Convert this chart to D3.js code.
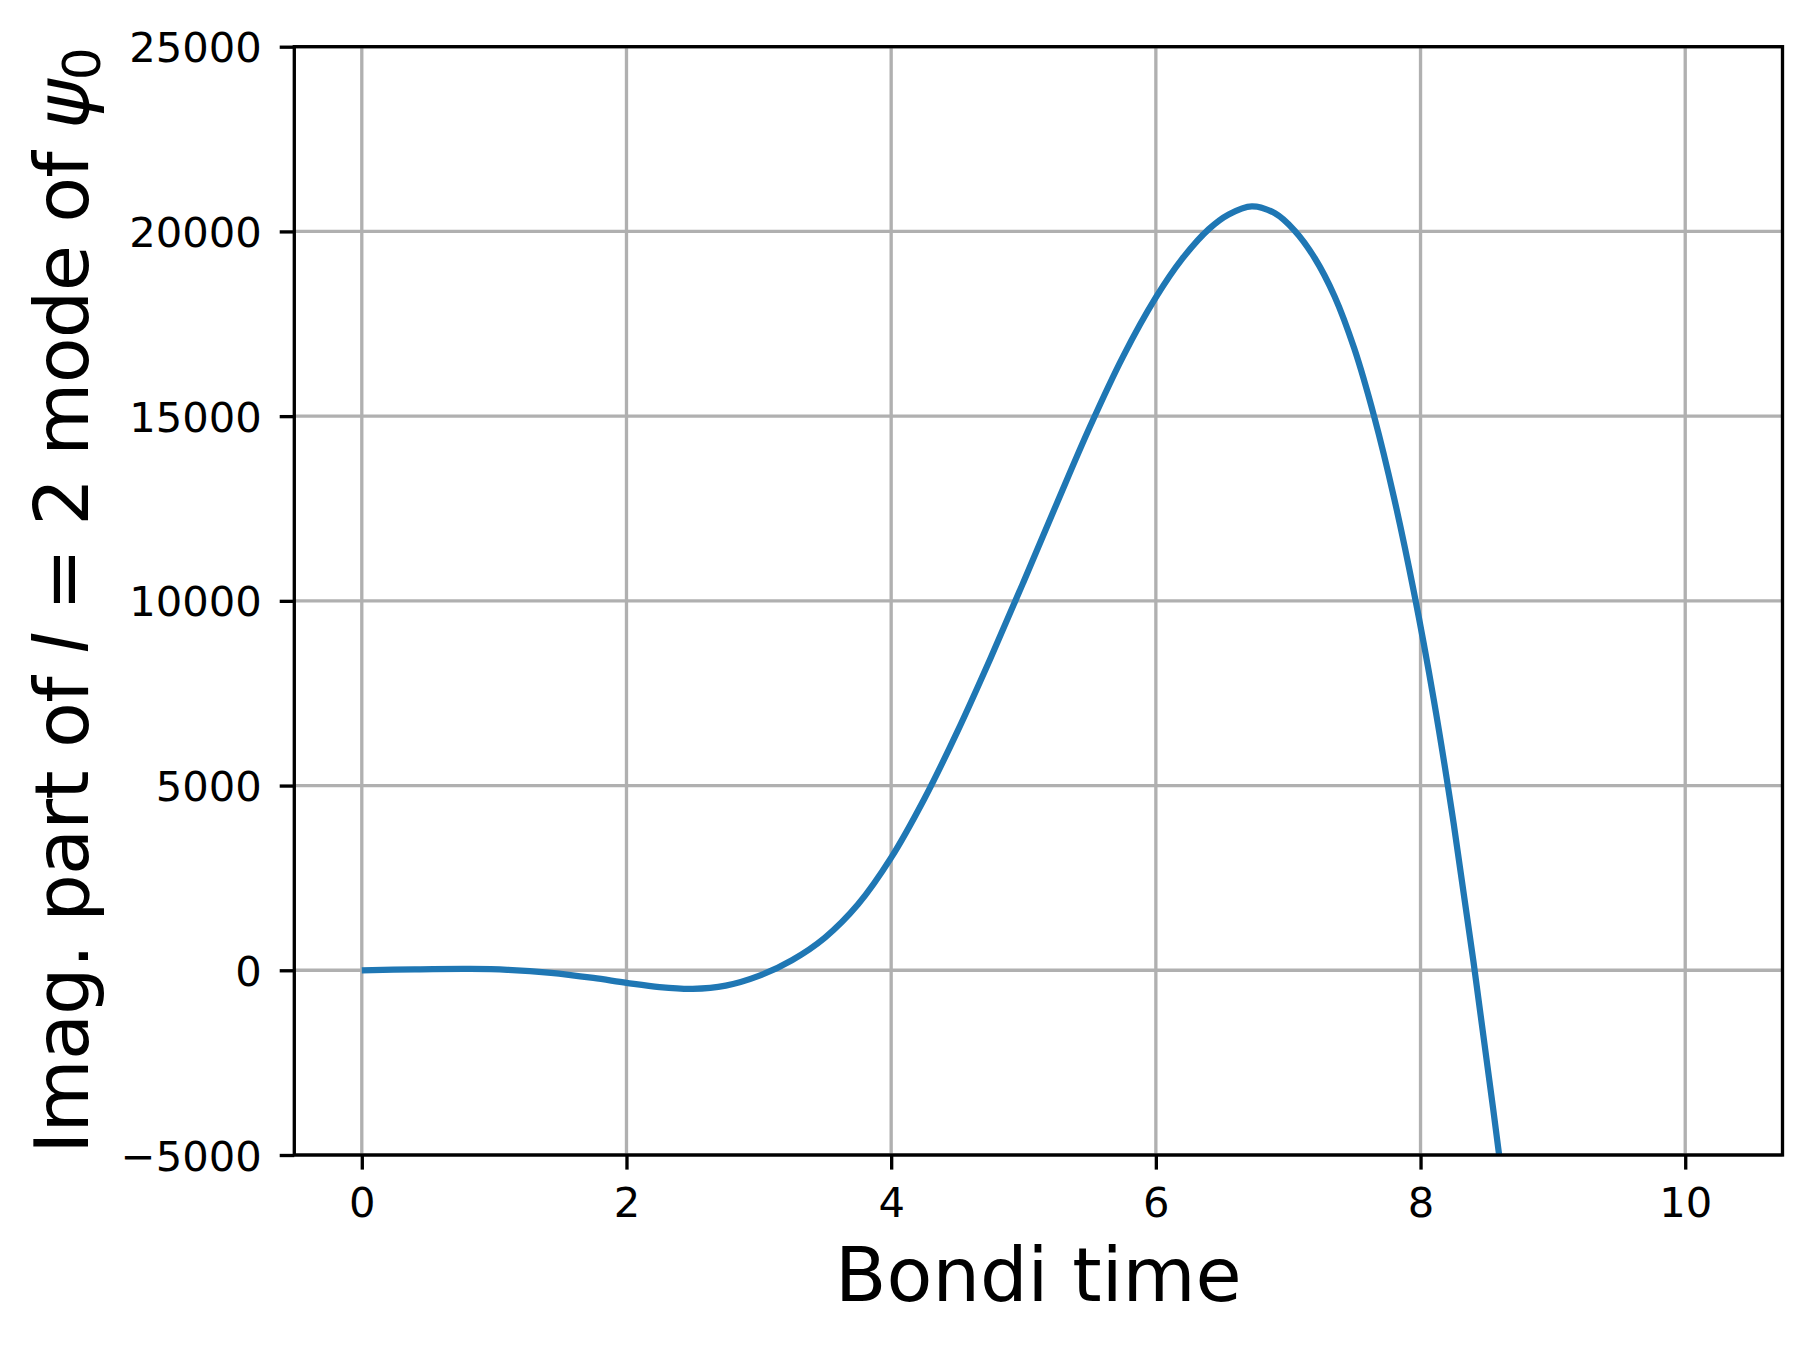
<!DOCTYPE html>
<html>
<head>
<meta charset="utf-8">
<script src="https://cdn.jsdelivr.net/npm/d3@7"></script>
<style>
  html, body { margin: 0; padding: 0; background: #ffffff; }
  svg { display: block; }
  text { font-family: "DejaVu Sans", sans-serif; fill: #000; }
</style>
</head>
<body>
<svg id="chart" width="1811" height="1346"></svg>
<script>
// ---- data ----
const bondiTime = [0, 0.4, 0.82, 1.1, 1.43, 1.75, 2.0, 2.25, 2.5, 2.75, 3.0, 3.25, 3.5, 3.75, 4.0, 4.25, 4.5, 4.75, 5.0, 5.25, 5.5, 5.75, 6.0, 6.2, 6.4, 6.55, 6.725, 6.9, 7.05, 7.2, 7.35, 7.5, 7.65, 7.8, 7.95, 8.1, 8.25, 8.4, 8.55, 8.7];
const imagPsi0 = [0, 26, 37, 14, -69, -208, -340, -455, -502, -415, -152, 273, 886, 1786, 3048, 4636, 6461, 8442, 10511, 12624, 14699, 16599, 18212, 19262, 20062, 20460, 20680, 20489, 20016, 19281, 18246, 16821, 14983, 12785, 10235, 7325, 3980, 230, -3783, -7983];
const xTicks = [0, 2, 4, 6, 8, 10];
const yTicks = [-5000, 0, 5000, 10000, 15000, 20000, 25000];
const xDomain = [-0.51, 10.735];
const yDomain = [-5000, 25000];
const xLabel = "Bondi time";

// ---- layout ----
const L = 294.3, R = 1782.5, T = 46.7, B = 1155;
const svg = d3.select("#chart");

const x = d3.scaleLinear().domain(xDomain).range([L, R]);
const y = d3.scaleLinear().domain(yDomain).range([B, T]);

const gridColor = "#b0b0b0";
const lw = 3.33;

// grid
const gGrid = svg.append("g");
gGrid.selectAll("line.vx").data(xTicks).join("line")
  .attr("x1", d => x(d)).attr("x2", d => x(d))
  .attr("y1", T).attr("y2", B)
  .attr("stroke", gridColor).attr("stroke-width", lw);
gGrid.selectAll("line.hy").data(yTicks).join("line")
  .attr("x1", L).attr("x2", R)
  .attr("y1", d => y(d)).attr("y2", d => y(d))
  .attr("stroke", gridColor).attr("stroke-width", lw);

// clip
svg.append("defs").append("clipPath").attr("id", "clip")
  .append("rect").attr("x", L).attr("y", T).attr("width", R - L).attr("height", B - T);

// line
const data = bondiTime.map((t, i) => [t, imagPsi0[i]]);
const line = d3.line().x(d => x(d[0])).y(d => y(d[1])).curve(d3.curveCatmullRom.alpha(0.5));
svg.append("path")
  .datum(data)
  .attr("clip-path", "url(#clip)")
  .attr("d", line)
  .attr("fill", "none")
  .attr("stroke", "#1f77b4")
  .attr("stroke-width", 6.25)
  .attr("stroke-linejoin", "round")
  .attr("stroke-linecap", "butt");

// axes
const fmtY = d => (d < 0 ? "\u2212" + Math.abs(d) : String(d));
const xAxis = d3.axisBottom(x).tickValues(xTicks).tickSize(14.6).tickPadding(14.6).tickSizeOuter(0).tickFormat(d => String(d));
const yAxis = d3.axisLeft(y).tickValues(yTicks).tickSize(14.6).tickPadding(14.6).tickSizeOuter(0).tickFormat(fmtY);

const gx = svg.append("g").attr("transform", `translate(0,${B})`).call(xAxis);
const gy = svg.append("g").attr("transform", `translate(${L},0)`).call(yAxis);
[gx, gy].forEach(g => {
  g.select(".domain").remove();
  g.selectAll(".tick line").attr("stroke", "#000").attr("stroke-width", lw);
  g.selectAll(".tick text").attr("font-size", 41.67).attr("font-family", "DejaVu Sans").attr("fill", "#000");
});
gx.selectAll(".tick text").attr("dy", null).attr("y", 62).attr("dominant-baseline", "auto");
gy.selectAll(".tick text").attr("dy", "0.36em").attr("x", -32.6);

// spines
svg.append("rect").attr("x", L).attr("y", T).attr("width", R - L).attr("height", B - T)
  .attr("fill", "none").attr("stroke", "#000").attr("stroke-width", lw).attr("stroke-linejoin", "miter");

// x label
svg.append("text")
  .attr("x", (L + R) / 2).attr("y", 1300.7)
  .attr("text-anchor", "middle")
  .attr("font-size", 75)
  .text(xLabel);

// y label
const yl = svg.append("text")
  .attr("transform", `translate(88.3,${(T + B) / 2}) rotate(-90)`)
  .attr("text-anchor", "middle")
  .attr("font-size", 75)
  .attr("letter-spacing", -0.75);
yl.append("tspan").text("Imag. part of ");
yl.append("tspan").attr("font-style", "italic").text("l");
yl.append("tspan").text(" = 2 mode of ");
yl.append("tspan").attr("font-style", "italic").text("\u03C8");
yl.append("tspan").attr("font-size", 52).attr("dy", 12).text("0");
</script>
</body>
</html>
